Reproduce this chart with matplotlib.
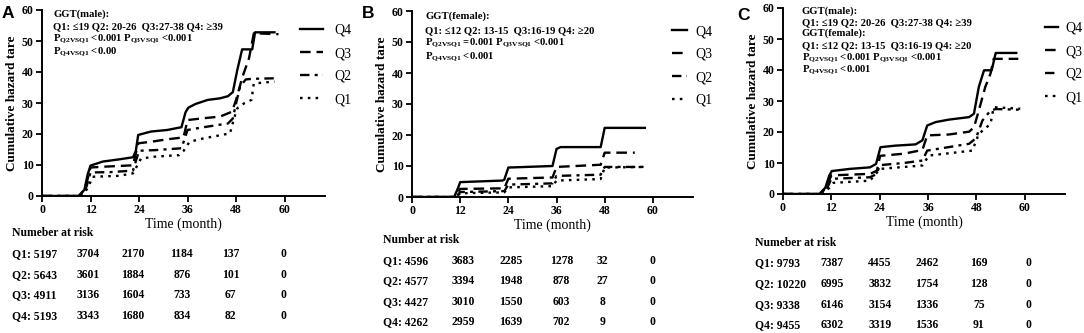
import matplotlib
matplotlib.use('Agg')
import matplotlib.pyplot as plt
from matplotlib.transforms import blended_transform_factory

plt.rcParams['font.family'] = ['Liberation Serif', 'DejaVu Serif']
plt.rcParams['mathtext.fontset'] = 'custom'
plt.rcParams['mathtext.rm'] = 'Liberation Serif:bold'
plt.rcParams['mathtext.bf'] = 'Liberation Serif:bold'
plt.rcParams['mathtext.it'] = 'Liberation Serif:bold'

# ---------------- data ----------------
labels = ['Q4', 'Q3', 'Q2', 'Q1']
xticks = [0, 12, 24, 36, 48, 60]
yticks = [0, 10, 20, 30, 40, 50, 60]

# Panel A (male)
a_q4_t = [0, 9.0, 10.5, 11.3, 12, 15, 19, 22.5, 23.2, 23.8, 27, 31, 34.5, 35.5, 36.2, 38, 41, 44, 46, 47.2, 48.3, 49.5, 52, 52.7, 57.5]
a_q4_v = [0, 0, 2, 7, 9.8, 11.1, 11.8, 12.5, 14.5, 19.7, 20.8, 21.3, 22.2, 27, 28.5, 29.7, 31.0, 31.5, 32.2, 33.5, 40.6, 47.3, 47.3, 52.8, 52.8]
a_q3_t = [0, 9.5, 11, 12, 16, 22.5, 23.8, 27, 31, 35, 36, 40, 44, 47, 48, 49.6, 51.2, 52.4, 58.5]
a_q3_v = [0, 0, 4, 9.2, 9.5, 9.9, 17.0, 17.5, 18.3, 18.9, 24.5, 25.1, 25.6, 27.2, 31, 38.5, 44.4, 52.5, 52.2]
a_q2_t = [0, 9.5, 11, 12, 17, 22.5, 24, 28, 34.5, 36, 40, 46, 47.2, 48, 49, 50.4, 52, 58.5]
a_q2_v = [0, 0, 3, 7.6, 7.7, 8.2, 14.6, 14.8, 15.4, 21.3, 22.2, 23.4, 25, 29.9, 35.3, 37.6, 37.8, 38.0]
a_q1_t = [0, 10, 11.5, 12.5, 19, 22.5, 24.5, 28, 34, 35, 36.5, 40, 46.5, 47.5, 48.3, 50, 51.8, 52.4, 57.5]
a_q1_v = [0, 0, 3, 6.2, 6.5, 7.3, 12.1, 12.7, 13.2, 14.5, 17.5, 18.6, 20.2, 25, 28.3, 29.9, 31, 36.3, 36.9]

# Panel B (female)
b_q4_t = [0, 10.5, 11.5, 12, 22.5, 23, 24, 35, 36, 37, 47, 48, 58]
b_q4_v = [0, 0, 3, 4.8, 5.3, 5.6, 9.5, 10.0, 15.5, 16.1, 16.1, 22.3, 22.3]
b_q3_t = [0, 10.8, 12, 23, 24, 35, 36, 47, 48, 55.5]
b_q3_v = [0, 0, 2.6, 2.8, 5.9, 6.3, 9.7, 10.4, 14.3, 14.3]
b_q2_t = [0, 11, 12, 23, 24, 35, 36, 47, 48, 58]
b_q2_v = [0, 0, 1.6, 1.9, 4.0, 4.4, 6.8, 7.2, 9.7, 9.7]
b_q1_t = [0, 11, 12, 23, 24, 35, 36, 47, 48, 58]
b_q1_v = [0, 0, 1.2, 1.5, 3.1, 3.5, 5.3, 5.8, 9.5, 9.7]

# Panel C (all)
c_q4_t = [0, 9, 10.5, 11.5, 12.1, 16.6, 21.6, 23.1, 24.2, 27.9, 32.9, 34.6, 35.8, 37.9, 41.2, 46.2, 47.4, 48.6, 49.9, 51.8, 52.8, 57.9]
c_q4_v = [0, 0, 2, 6, 7.4, 8.1, 8.6, 9.7, 15.1, 15.6, 16.0, 17.3, 22.1, 23.2, 24.0, 24.8, 25.9, 34.5, 39.9, 39.9, 45.5, 45.5]
c_q3_t = [0, 9.5, 11, 12, 21.6, 23.3, 24.1, 30, 34.6, 35.8, 41.2, 46.2, 47.4, 48.6, 50.2, 51.5, 52.3, 58.4]
c_q3_v = [0, 0, 3, 6.0, 6.5, 7.5, 12.3, 13.0, 14.2, 18.9, 19.2, 20.1, 21.5, 26.9, 34.5, 38.8, 43.6, 43.6]
c_q2_t = [0, 9.5, 11, 12, 21.6, 23.3, 24, 30, 34.6, 35.8, 46.2, 47.9, 49.5, 51.5, 52.8, 58.5]
c_q2_v = [0, 0, 2, 4.9, 5.4, 6.5, 9.3, 10, 10.8, 14.0, 16.2, 18, 23.7, 26.9, 27.4, 27.2]
c_q1_t = [0, 10, 11.5, 12.5, 21.6, 24.1, 34.6, 36.2, 47, 48.6, 51.5, 52.3, 58.9]
c_q1_v = [0, 0, 2, 3.6, 4.3, 8.1, 9.2, 12.4, 14.0, 19.4, 22.6, 28.0, 27.5]

# Numbers at risk
a_risk_q1 = [5197, 3704, 2170, 1184, 137, 0]
a_risk_q2 = [5643, 3601, 1884, 876, 101, 0]
a_risk_q3 = [4911, 3136, 1604, 733, 67, 0]
a_risk_q4 = [5193, 3343, 1680, 834, 82, 0]
b_risk_q1 = [4596, 3683, 2285, 1278, 32, 0]
b_risk_q2 = [4577, 3394, 1948, 878, 27, 0]
b_risk_q3 = [4427, 3010, 1550, 603, 8, 0]
b_risk_q4 = [4262, 2959, 1639, 702, 9, 0]
c_risk_q1 = [9793, 7387, 4455, 2462, 169, 0]
c_risk_q2 = [10220, 6995, 3832, 1754, 128, 0]
c_risk_q3 = [9338, 6146, 3154, 1336, 75, 0]
c_risk_q4 = [9455, 6302, 3319, 1536, 91, 0]

a_notes = ['GGT(male):',
           'Q1: \u226419 Q2: 20-26  Q3:27-38 Q4: \u226539',
           r'P$_{\mathbf{Q2VSQ1}}$ <0.001 P$_{\mathbf{Q3VSQ1}}$ <0.001',
           r'P$_{\mathbf{Q4VSQ1}}$ <0.00']
b_notes = ['GGT(female):',
           'Q1: \u226412 Q2: 13-15  Q3:16-19 Q4: \u226520',
           r'P$_{\mathbf{Q2VSQ1}}$ =0.001 P$_{\mathbf{Q3VSQ1}}$ <0.001',
           r'P$_{\mathbf{Q4VSQ1}}$ <0.001']
c_notes = ['GGT(male):',
           'Q1: \u226419 Q2: 20-26  Q3:27-38 Q4: \u226539',
           'GGT(female):',
           'Q1: \u226412 Q2: 13-15  Q3:16-19 Q4: \u226520',
           r'P$_{\mathbf{Q2VSQ1}}$ <0.001 P$_{\mathbf{Q3VSQ1}}$ <0.001',
           r'P$_{\mathbf{Q4VSQ1}}$ <0.001']

# ---------------- layout ----------------
W, H = 1084, 333
fig = plt.figure(figsize=(W / 100, H / 100), dpi=100)

def fx(px):
    return px / W

def fy(py):
    return 1 - py / H

styles = ['-', (0, (4.5, 2.5)), (0, (4, 2.2, 1.3, 2.2)), (0, (1.1, 2.2))]

panels = [
    dict(letter='A', ax=(42, 325, 10, 196), letter_xy=(2, 14),
         series=[(a_q4_t, a_q4_v), (a_q3_t, a_q3_v), (a_q2_t, a_q2_v), (a_q1_t, a_q1_v)],
         risk=[a_risk_q1, a_risk_q2, a_risk_q3, a_risk_q4],
         header='Numeber at risk', header_y=233, rows_y=[254, 275, 295, 316],
         first_x=12, cols=[11.4, 22.5, 34.6, 46.6, 59.6],
         notes=a_notes, notes_x=53, notes_y=[14, 27, 39, 52],
         leg=(300, 24), hl=1.65, hp=0.85),
    dict(letter='B', ax=(412, 693, 11, 197), letter_xy=(362, 14),
         series=[(b_q4_t, b_q4_v), (b_q3_t, b_q3_v), (b_q2_t, b_q2_v), (b_q1_t, b_q1_v)],
         risk=[b_risk_q1, b_risk_q2, b_risk_q3, b_risk_q4],
         header='Number at risk', header_y=240, rows_y=[261, 281, 302, 322],
         first_x=383, cols=[12.8, 24.6, 37.2, 47.5, 60.0],
         notes=b_notes, notes_x=425, notes_y=[16, 31, 43, 57],
         leg=(672, 25), hl=1.1, hp=0.58),
    dict(letter='C', ax=(783, 1065, 8, 194), letter_xy=(737, 15),
         series=[(c_q4_t, c_q4_v), (c_q3_t, c_q3_v), (c_q2_t, c_q2_v), (c_q1_t, c_q1_v)],
         risk=[c_risk_q1, c_risk_q2, c_risk_q3, c_risk_q4],
         header='Numeber at risk', header_y=243, rows_y=[263, 284, 305, 325],
         first_x=755, cols=[12.2, 24.1, 35.7, 48.6, 61.0],
         notes=c_notes, notes_x=802, notes_y=[11, 23, 33, 46, 58, 70],
         leg=(1045, 22), hl=0.9, hp=0.55),
]

for p in panels:
    l, r, t, b = p['ax']
    ax = fig.add_axes([fx(l), fy(b), (r - l) / W, (b - t) / H])
    for (tt, vv), ls, lab in zip(p['series'], styles, labels):
        ax.plot(tt, vv, color='black', lw=1.7, linestyle=ls, label=lab)
    ax.set_xlim(0, 70)
    ax.set_ylim(0, 60)
    ax.set_xticks(xticks)
    ax.set_yticks(yticks)
    for s in ['top', 'right']:
        ax.spines[s].set_visible(False)
    for s in ['left', 'bottom']:
        ax.spines[s].set_linewidth(1.4)
    ax.tick_params(direction='out', length=4, width=1.3, labelsize=8.5, pad=2)
    for lb in ax.get_xticklabels() + ax.get_yticklabels():
        lb.set_fontweight('bold')
    ax.set_xlabel('Time (month)', fontsize=10, labelpad=1)
    ax.set_ylabel('Cumulative hazard tare', fontsize=9.5, fontweight='bold', labelpad=3)

    ax.legend(loc='upper left', bbox_to_anchor=(fx(p['leg'][0]), fy(p['leg'][1])),
              bbox_transform=fig.transFigure, frameon=False, borderaxespad=0,
              borderpad=0, handlelength=p['hl'], handletextpad=p['hp'],
              labelspacing=0.72, fontsize=10)

    fig.text(fx(p['letter_xy'][0]), fy(p['letter_xy'][1]), p['letter'],
             family='Liberation Sans', fontweight='bold', fontsize=12.5,
             ha='left', va='center')

    for txt, yy in zip(p['notes'], p['notes_y']):
        fig.text(fx(p['notes_x']), fy(yy), txt, fontsize=7.7, fontweight='bold',
                 ha='left', va='center')

    tr = blended_transform_factory(ax.transData, fig.transFigure)
    fig.text(fx(p['first_x']), fy(p['header_y']), p['header'], fontsize=8.4,
             fontweight='bold', ha='left', va='center')
    for i, (row, yy) in enumerate(zip(p['risk'], p['rows_y'])):
        fig.text(fx(p['first_x']), fy(yy), 'Q%d: %d' % (i + 1, row[0]), fontsize=8.4,
                 fontweight='bold', ha='left', va='center')
        for val, cx in zip(row[1:], p['cols']):
            ax.text(cx, fy(yy), str(val), transform=tr, fontsize=8.4,
                    fontweight='bold', ha='center', va='center', clip_on=False)

fig.savefig('out.png', dpi=100)
